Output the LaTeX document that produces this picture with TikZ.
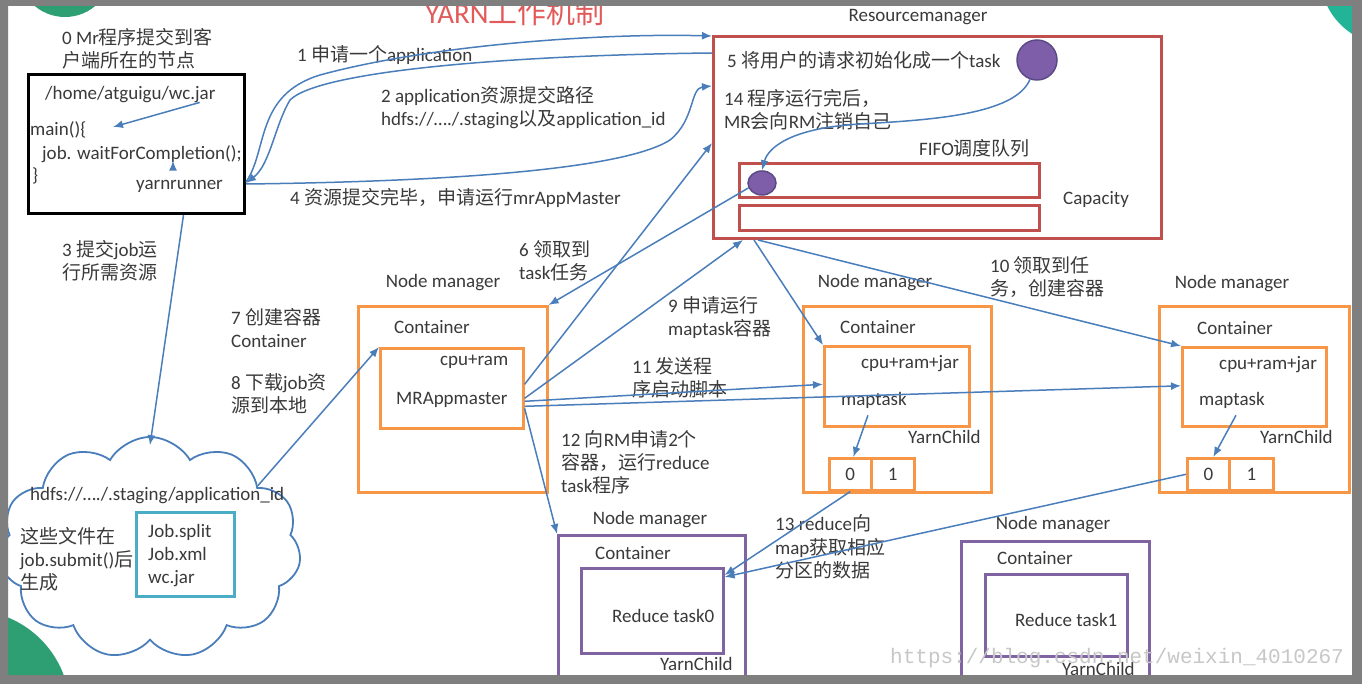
\documentclass[tikz,border=0pt]{standalone}
\usepackage{fontspec}
\setmainfont{Carlito}
\newfontfamily\cjk{Noto Sans CJK SC}
\newfontfamily\wmfont{Liberation Mono}
\usetikzlibrary{arrows.meta,shapes.geometric,shapes.symbols}
\newcommand\zh[1]{{\cjk #1}}
\newcommand\lblfont{\fontsize{19}{23}\selectfont}
\definecolor{txt}{HTML}{3A3A3A}
\definecolor{arrowblue}{HTML}{4A7EBB}
\definecolor{boxorange}{HTML}{F79646}
\definecolor{rmred}{HTML}{C0504D}
\definecolor{boxpurple}{HTML}{8064A2}
\definecolor{circfill}{HTML}{7E5EA8}
\definecolor{circbord}{HTML}{5B4A86}
\definecolor{boxteal}{HTML}{4BACC6}
\definecolor{framegray}{HTML}{7F7F7F}
\definecolor{titlered}{HTML}{E25A5A}
\definecolor{decogreen}{HTML}{2E9E73}
\definecolor{decoteal}{HTML}{22B497}
\begin{document}
\begin{tikzpicture}[x=1pt,y=-1pt,
  box/.style={inner sep=0pt, anchor=north west},
  blackbox/.style={box, draw=black, line width=3pt},
  rmbox/.style={box, draw=rmred, line width=3pt},
  orangebox/.style={box, draw=boxorange, line width=2.6pt},
  purplebox/.style={box, draw=boxpurple, line width=2.6pt},
  tealbox/.style={box, draw=boxteal, line width=2.6pt},
  cell/.style={orangebox, font=\lblfont, text=txt},
  lbl/.style={inner sep=0pt, anchor=west, text=txt, font=\lblfont},
  mlbl/.style={inner sep=0pt, anchor=north west, align=left, text=txt, font=\lblfont},
  nmlbl/.style={inner sep=0pt, text=txt, font=\lblfont},
  conn/.style={draw=arrowblue, line width=1.5pt, -{Latex[length=10pt,width=8pt]}}
]
\useasboundingbox (0,0) rectangle (1362,684);
\fill[white] (0,0) rectangle (1362,684);
% decorations of the slide
\fill[decogreen] (65,-30) circle (47);
\fill[decogreen] (-30,710) circle (100);
\fill[decoteal] (1390,-25) circle (70);

% title
\node[font=\fontsize{29}{31}\selectfont, text=titlered, inner sep=0pt] (title) at (515,12) {YARN\zh{工作机制}};

% client
\node[blackbox, minimum width=216, minimum height=139] (client) at (27,73) {};
\node[mlbl] (t0) at (62,28) {\strut 0 Mr\zh{程序提交到客}\\\zh{户端所在的节点}};
\node[lbl] (jarpath) at (45,95) {/home/atguigu/wc.jar};
\node[lbl] (mainf) at (30,130) {main()\{};
\node[lbl] (waitc) at (42,154) {job. waitForCompletion();};
\node[lbl] (closeb) at (32,176) {\}};
\node[lbl] (yarn) at (136,186) {yarnrunner};

% resource manager
\node[nmlbl] (rmlabel) at (918,17) {Resourcemanager};
\node[rmbox, minimum width=448, minimum height=202] (rm) at (712,35) {};
\node[lbl] (l5) at (727,60) {5 \zh{将用户的请求初始化成一个}task};
\node[circle, draw=circbord, fill=circfill, line width=1.5pt, minimum size=40, inner sep=0pt] (bigc) at (1037,60) {};
\node[mlbl] (l14) at (724,89) {\strut 14 \zh{程序运行完后，}\\MR\zh{会向}RM\zh{注销自己}};
\node[lbl] (fifo) at (919,148) {FIFO\zh{调度队列}};
\node[rmbox, minimum width=300, minimum height=34] (q1) at (738,162) {};
\node[rmbox, minimum width=300, minimum height=25] (q2) at (738,204) {};
\node[ellipse, draw=circbord, fill=circfill, line width=1.5pt, minimum width=28, minimum height=24, inner sep=0pt] (smallc) at (762,183) {};
\node[lbl] (cap) at (1063,199) {Capacity};

% labels client <-> RM
\node[lbl] (l1) at (297,55) {1 \zh{申请一个}application};
\node[mlbl] (l2) at (381,86) {\strut 2 application\zh{资源提交路径}\\hdfs://…./.staging\zh{以及}application\_id};
\node[lbl] (l4) at (290,198) {4 \zh{资源提交完毕，申请运行}mrAppMaster};
\node[mlbl] (l3) at (62,240) {\strut 3 \zh{提交}job\zh{运}\\\zh{行所需资源}};

% HDFS cloud
\node[cloud, cloud puffs=11, cloud puff arc=120, aspect=1.35, draw=arrowblue, line width=1.8pt, fill=white, minimum width=302, minimum height=222, inner sep=0pt] (cloud) at (150,548) {};
\node[lbl] (hdfs) at (30,496) {hdfs://…./.staging/application\_id};
\node[mlbl] (gen) at (20,527) {\strut\zh{这些文件在}\\job.submit()\zh{后}\\\zh{生成}};
\node[tealbox, fill=white, minimum width=98, minimum height=84] (files) at (135,511) {};
\node[mlbl] (filelist) at (148,521) {\strut Job.split\\Job.xml\\wc.jar};

\node[mlbl] (l7) at (231,308) {\strut 7 \zh{创建容器}\\Container};
\node[mlbl] (l8) at (231,373) {\strut 8 \zh{下载}job\zh{资}\\\zh{源到本地}};

% node manager 1
\node[nmlbl] (nm1lbl) at (443,283) {Node manager};
\node[orangebox, minimum width=189, minimum height=186] (nm1) at (357,305) {};
\node[lbl] (cont1) at (394,327) {Container};
\node[orangebox, minimum width=143, minimum height=80] (mrbox) at (379,347) {};
\node[lbl] (cpu1) at (440,362) {cpu+ram};
\node[lbl] (mrapp) at (396,400) {MRAppmaster};

\node[mlbl] (l6) at (519,240) {\strut 6 \zh{领取到}\\task\zh{任务}};
\node[mlbl] (l9) at (668,296) {\strut 9 \zh{申请运行}\\maptask\zh{容器}};
\node[mlbl] (l10) at (990,256) {\strut 10 \zh{领取到任}\\\zh{务，创建容器}};
\node[mlbl] (l11) at (632,357) {\strut 11 \zh{发送程}\\\zh{序启动脚本}};
\node[mlbl] (l12) at (561,430) {\strut 12 \zh{向}RM\zh{申请}2\zh{个}\\\zh{容器，运行}reduce\\task\zh{程序}};
\node[mlbl] (l13) at (775,514) {\strut 13 reduce\zh{向}\\map\zh{获取相应}\\\zh{分区的数据}};

% node manager 2
\node[nmlbl] (nm2lbl) at (875,283) {Node manager};
\node[orangebox, minimum width=188, minimum height=186] (nm2) at (802,305) {};
\node[lbl] (cont2) at (840,327) {Container};
\node[orangebox, minimum width=145, minimum height=80] (inner2) at (823,345) {};
\node[lbl] (cpu2) at (861,364) {cpu+ram+jar};
\node[lbl] (mt2) at (841,400) {maptask};
\node[lbl] (yc2) at (908,437) {YarnChild};
\node[cell, minimum width=42, minimum height=32] (c20) at (828,457) {0};
\node[cell, minimum width=43, minimum height=32] (c21) at (870,457) {1};

% node manager 3
\node[nmlbl] (nm3lbl) at (1232,284) {Node manager};
\node[orangebox, minimum width=190, minimum height=186] (nm3) at (1158,305) {};
\node[lbl] (cont3) at (1197,328) {Container};
\node[orangebox, minimum width=144, minimum height=79] (inner3) at (1181,346) {};
\node[lbl] (cpu3) at (1219,365) {cpu+ram+jar};
\node[lbl] (mt3) at (1199,400) {maptask};
\node[lbl] (yc3) at (1260,437) {YarnChild};
\node[cell, minimum width=42, minimum height=32] (c30) at (1186,457) {0};
\node[cell, minimum width=44, minimum height=32] (c31) at (1228,457) {1};

% node manager 4
\node[nmlbl] (nm4lbl) at (650,520) {Node manager};
\node[purplebox, minimum width=187, minimum height=143] (nm4) at (557,534) {};
\node[lbl] (cont4) at (595,553) {Container};
\node[purplebox, minimum width=142, minimum height=85] (inner4) at (580,567) {};
\node[lbl] (rt0) at (612,616) {Reduce task0};
\node[lbl] (yc4) at (660,664) {YarnChild};

% node manager 5
\node[nmlbl] (nm5lbl) at (1053,525) {Node manager};
\node[purplebox, minimum width=188, minimum height=145] (nm5) at (960,540) {};
\node[lbl] (cont5) at (997,558) {Container};
\node[purplebox, minimum width=142, minimum height=82] (inner5) at (984,573) {};
\node[lbl] (rt1) at (1015,620) {Reduce task1};
\node[lbl] (yc5) at (1062,669) {YarnChild};

% connectors
\draw[conn] ([xshift=-16pt,yshift=1pt]jarpath.south east) -- ([xshift=83pt,yshift=3pt]mainf.west);
\draw[conn] ([xshift=37pt,yshift=11pt]yarn.north west) -- ([xshift=37pt,yshift=19pt]yarn.north west);
\draw[conn] ([yshift=-38pt]client.east) .. controls (268,150) and (255,95) .. (320,75) .. controls (430,45) and (600,33) .. ([yshift=-1pt]rm.north west);
\draw[conn] ([yshift=-18pt]rm.north west) .. controls (520,55) and (320,70) .. (290,100) .. controls (275,125) and (270,165) .. ([yshift=-39pt]client.east);
\draw[conn] ([yshift=-40pt]client.east) .. controls (420,182) and (620,172) .. (670,140) .. controls (695,120) and (690,88) .. ([yshift=-51pt]rm.north west);
\draw[conn] ([xshift=47pt]client.south) -- ([yshift=-9pt]cloud.north);
\draw[conn] (cloud.30) -- (mrbox.north west);
\draw[conn] (bigc.250) .. controls (1015,115) and (930,120) .. (860,124) .. controls (790,128) and (768,148) .. (smallc.north);
\draw[conn] (smallc.200) -- (nm1.north east);
\draw[conn] ([yshift=4pt]mrbox.east) -- ([yshift=-108pt]rm.north west);
\draw[conn] ([yshift=-10pt]mrbox.east) -- ([xshift=31pt]rm.south west);
\draw[conn] ([xshift=42pt]rm.south west) -- (inner2.north west);
\draw[conn] ([xshift=46pt]rm.south west) -- (inner3.north west);
\draw[conn] ([yshift=-13pt]mrbox.east) -- ([yshift=2pt]inner2.west);
\draw[conn] ([yshift=-18pt]mrbox.east) -- ([yshift=1pt]inner3.west);
\draw[conn] ([yshift=-20pt]mrbox.east) -- (nm4.north west);
\draw[conn] ([xshift=-6pt,yshift=-7pt]mt2.south) -- ([xshift=3pt]c20.north);
\draw[conn] ([xshift=4pt,yshift=-7pt]mt3.south) -- ([xshift=5pt]c30.north);
\draw[conn] (c20.south) -- ([yshift=-8pt]inner4.north east);
\draw[conn] (c30.west) -- ([yshift=-10pt]inner4.north east);

% watermark
\node[inner sep=0pt, anchor=west, font=\wmfont\fontsize{21}{24}\selectfont, text=black!22] (wm) at (890,658) {https://blog.csdn.net/weixin\_4010267};

% screenshot frame
\fill[framegray, even odd rule] (0,0) rectangle (1362,684) (8,6) rectangle (1352,675);
\end{tikzpicture}
\end{document}
